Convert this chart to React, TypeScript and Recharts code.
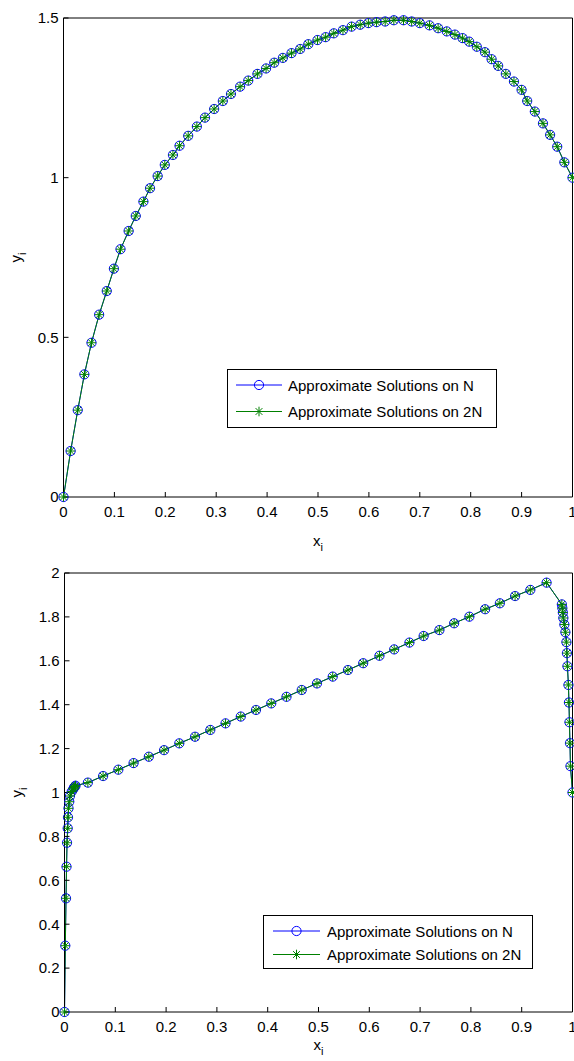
import React from 'react';
import { LineChart, Line, XAxis, YAxis, Legend, Label } from 'recharts';

const FONT = '"Liberation Sans", Arial, Helvetica, sans-serif';

const xTicks = [0, 0.1, 0.2, 0.3, 0.4, 0.5, 0.6, 0.7, 0.8, 0.9, 1];
const topYTicks = [0, 0.5, 1, 1.5];
const bottomYTicks = [0, 0.2, 0.4, 0.6, 0.8, 1, 1.2, 1.4, 1.6, 1.8, 2];

const seriesNames = ['Approximate Solutions on N', 'Approximate Solutions on 2N'];

// upper panel: nodes x_i and values y_i
const topX = [
  0, 0.014, 0.028, 0.041, 0.055, 0.07, 0.085, 0.099, 0.112, 0.128,
  0.142, 0.157, 0.17, 0.185, 0.199, 0.215, 0.228, 0.245, 0.262, 0.278,
  0.296, 0.313, 0.329, 0.347, 0.363, 0.381, 0.398, 0.414, 0.431, 0.448,
  0.465, 0.481, 0.499, 0.515, 0.531, 0.549, 0.566, 0.583, 0.599, 0.615,
  0.632, 0.649, 0.668, 0.684, 0.7, 0.719, 0.736, 0.753, 0.769, 0.784,
  0.797, 0.812, 0.828, 0.841, 0.854, 0.869, 0.885, 0.9, 0.911, 0.926,
  0.942, 0.956, 0.97, 0.984, 1,
];
const topYN = [
  0, 0.144, 0.272, 0.384, 0.483, 0.571, 0.645, 0.715, 0.776, 0.833,
  0.88, 0.925, 0.967, 1.005, 1.04, 1.071, 1.1, 1.131, 1.16, 1.188,
  1.215, 1.24, 1.262, 1.285, 1.304, 1.325, 1.342, 1.36, 1.375, 1.39,
  1.403, 1.418, 1.431, 1.44, 1.452, 1.462, 1.473, 1.479, 1.484, 1.487,
  1.489, 1.493, 1.493, 1.489, 1.484, 1.477, 1.468, 1.458, 1.448, 1.437,
  1.426, 1.41, 1.393, 1.371, 1.35, 1.325, 1.301, 1.275, 1.24, 1.207,
  1.17, 1.134, 1.097, 1.048, 1,
];
// the 2N solution sits on the same points at this scale
const topY2N = topYN;

// lower panel: layer mesh near 0, coarse middle part, layer near 1
const bottomX = [
  0, 0.0016, 0.003, 0.004, 0.005, 0.0063, 0.0069, 0.0079, 0.0094, 0.0108,
  0.0142, 0.0173, 0.0187, 0.0203, 0.0217,
  0.046, 0.076, 0.106, 0.136, 0.166, 0.196, 0.226, 0.257, 0.287, 0.317,
  0.347, 0.377, 0.407, 0.437, 0.467, 0.497, 0.528, 0.558, 0.588, 0.62,
  0.649, 0.679, 0.707, 0.738, 0.767, 0.797, 0.828, 0.857, 0.887, 0.917, 0.949,
  0.979, 0.98, 0.981, 0.982, 0.984, 0.986, 0.988, 0.989, 0.99, 0.992,
  0.993, 0.994, 0.995, 0.996, 1,
];
const bottomYN = [
  0, 0.302, 0.518, 0.662, 0.771, 0.837, 0.887, 0.928, 0.958, 0.984,
  1.004, 1.016, 1.022, 1.027, 1.031,
  1.045, 1.075, 1.104, 1.134, 1.163, 1.193, 1.224, 1.254, 1.285, 1.315,
  1.346, 1.376, 1.406, 1.436, 1.467, 1.497, 1.528, 1.558, 1.589, 1.623,
  1.652, 1.683, 1.713, 1.74, 1.771, 1.801, 1.835, 1.862, 1.895, 1.923, 1.956,
  1.857, 1.84, 1.82, 1.795, 1.765, 1.73, 1.685, 1.635, 1.575, 1.49,
  1.41, 1.32, 1.225, 1.12, 1,
];
const bottomY2N = bottomYN;

const toRows = (xs: number[], ys: number[]) => xs.map((x, i) => ({ x, y: ys[i] }));

const BLUE = '#0000ff';
const GREEN = '#008000';

const circleMark = (cx: number, cy: number, key: string) => (
  <circle key={key} cx={cx} cy={cy} r={4.6} fill="none" stroke={BLUE} strokeWidth={1} />
);

const starMark = (cx: number, cy: number, key: string) => {
  const s = 4.8;
  const d = 3.4;
  return (
    <g key={key} stroke={GREEN} strokeWidth={1}>
      <line x1={cx - s} y1={cy} x2={cx + s} y2={cy} />
      <line x1={cx} y1={cy - s} x2={cx} y2={cy + s} />
      <line x1={cx - d} y1={cy - d} x2={cx + d} y2={cy + d} />
      <line x1={cx - d} y1={cy + d} x2={cx + d} y2={cy - d} />
    </g>
  );
};

const CircleDot = (props: any) => {
  const { cx, cy, index } = props;
  if (cx == null || cy == null) return <g key={`c${index}`} />;
  return circleMark(cx, cy, `c${index}`);
};

const StarDot = (props: any) => {
  const { cx, cy, index } = props;
  if (cx == null || cy == null) return <g key={`s${index}`} />;
  return starMark(cx, cy, `s${index}`);
};

type LegendCfg = { left: number; top: number; width: number; height: number; rows: number[]; line: number[]; textX: number };

const LegendBox = ({ cfg }: { cfg: LegendCfg }) => (
  <svg width={cfg.width} height={cfg.height} style={{ display: 'block', overflow: 'visible' }}>
    <rect x={0.5} y={0.5} width={cfg.width - 1} height={cfg.height - 1} fill="#fff" stroke="#000" strokeWidth={1} />
    {seriesNames.map((name, i) => {
      const y = cfg.rows[i];
      const mid = (cfg.line[0] + cfg.line[1]) / 2;
      return (
        <g key={name}>
          <line x1={cfg.line[0]} y1={y} x2={cfg.line[1]} y2={y} stroke={i === 0 ? BLUE : GREEN} strokeWidth={1} />
          {i === 0 ? circleMark(mid, y, 'lc') : starMark(mid, y, 'ls')}
          <text x={cfg.textX} y={y + 5.5} fontSize={15} fontFamily={FONT} fill="#000">
            {name}
          </text>
        </g>
      );
    })}
  </svg>
);

type PanelProps = {
  top: number;
  height: number;
  marginLeft: number;
  xAxisHeight: number;
  yTicks: number[];
  yMax: number;
  rowsN: { x: number; y: number }[];
  rows2N: { x: number; y: number }[];
  legend: LegendCfg;
  xTitleDy: number;
};

const Panel = ({ top, height, marginLeft, xAxisHeight, yTicks, yMax, rowsN, rows2N, legend, xTitleDy }: PanelProps) => {
  const tickStyle = { fill: '#000', fontSize: 15, fontFamily: FONT };
  return (
    <div style={{ position: 'absolute', left: 0, top, width: 574, height }}>
      <LineChart width={574} height={height} margin={{ top: 17, right: 0.5, left: marginLeft, bottom: 0 }}>
        <XAxis
          dataKey="x"
          type="number"
          domain={[0, 1]}
          ticks={xTicks}
          interval={0}
          height={xAxisHeight}
          stroke="#000"
          tickSize={-5}
          tickMargin={14.5}
          tick={tickStyle}
          tickFormatter={(v: number) => String(v)}
        >
          <Label
            content={(p: any) => {
              const vb = p.viewBox || {};
              const cx = vb.x + vb.width / 2;
              return (
                <text x={cx} y={vb.y + xTitleDy} textAnchor="middle" fontSize={15} fontFamily={FONT} fill="#000">
                  x<tspan dy={5} fontSize={11}>i</tspan>
                </text>
              );
            }}
          />
        </XAxis>
        <XAxis xAxisId="top" orientation="top" type="number" domain={[0, 1]} ticks={xTicks} interval={0} height={1} stroke="#000" tickSize={-5} tickFormatter={() => ''} />
        <YAxis
          type="number"
          domain={[0, yMax]}
          ticks={yTicks}
          interval={0}
          width={55}
          stroke="#000"
          tickSize={-5}
          tickMargin={10}
          tick={tickStyle}
          tickFormatter={(v: number) => String(v)}
        >
          <Label
            content={(p: any) => {
              const vb = p.viewBox || {};
              const cx = vb.x + 12.5;
              const cy = vb.y + vb.height / 2;
              return (
                <text x={cx} y={cy} transform={`rotate(-90 ${cx} ${cy})`} textAnchor="middle" fontSize={15} fontFamily={FONT} fill="#000">
                  y<tspan dy={5} fontSize={11}>i</tspan>
                </text>
              );
            }}
          />
        </YAxis>
        <YAxis yAxisId="right" orientation="right" type="number" domain={[0, yMax]} ticks={yTicks} interval={0} width={1} stroke="#000" tickSize={-5} tickFormatter={() => ''} />
        <Legend
          layout="vertical"
          align="center"
          verticalAlign="middle"
          content={() => <LegendBox cfg={legend} />}
          wrapperStyle={{ left: legend.left, top: legend.top, width: legend.width, height: legend.height }}
        />
        <Line
          data={rowsN}
          dataKey="y"
          name={seriesNames[0]}
          type="linear"
          stroke={BLUE}
          strokeWidth={1}
          dot={CircleDot}
          activeDot={false}
          isAnimationActive={false}
        />
        <Line
          data={rows2N}
          dataKey="y"
          name={seriesNames[1]}
          type="linear"
          stroke={GREEN}
          strokeWidth={1}
          dot={StarDot}
          activeDot={false}
          isAnimationActive={false}
        />
      </LineChart>
    </div>
  );
};

export default function App() {
  return (
    <div style={{ position: 'absolute', left: 0, top: 0, width: 574, height: 1061, background: '#fff' }}>
      <Panel
        top={0}
        height={555}
        marginLeft={8.5}
        xAxisHeight={58}
        yTicks={topYTicks}
        yMax={1.5}
        rowsN={toRows(topX, topYN)}
        rows2N={toRows(topX, topY2N)}
        legend={{ left: 227, top: 369, width: 270, height: 59, rows: [16, 42.5], line: [9, 55], textX: 61 }}
        xTitleDy={48.5}
      />
      <Panel
        top={555}
        height={506}
        marginLeft={9.5}
        xAxisHeight={49}
        yTicks={bottomYTicks}
        yMax={2}
        rowsN={toRows(bottomX, bottomYN)}
        rows2N={toRows(bottomX, bottomY2N)}
        legend={{ left: 263, top: 360, width: 270, height: 54, rows: [16, 39.5], line: [10, 57], textX: 64 }}
        xTitleDy={38}
      />
    </div>
  );
}
